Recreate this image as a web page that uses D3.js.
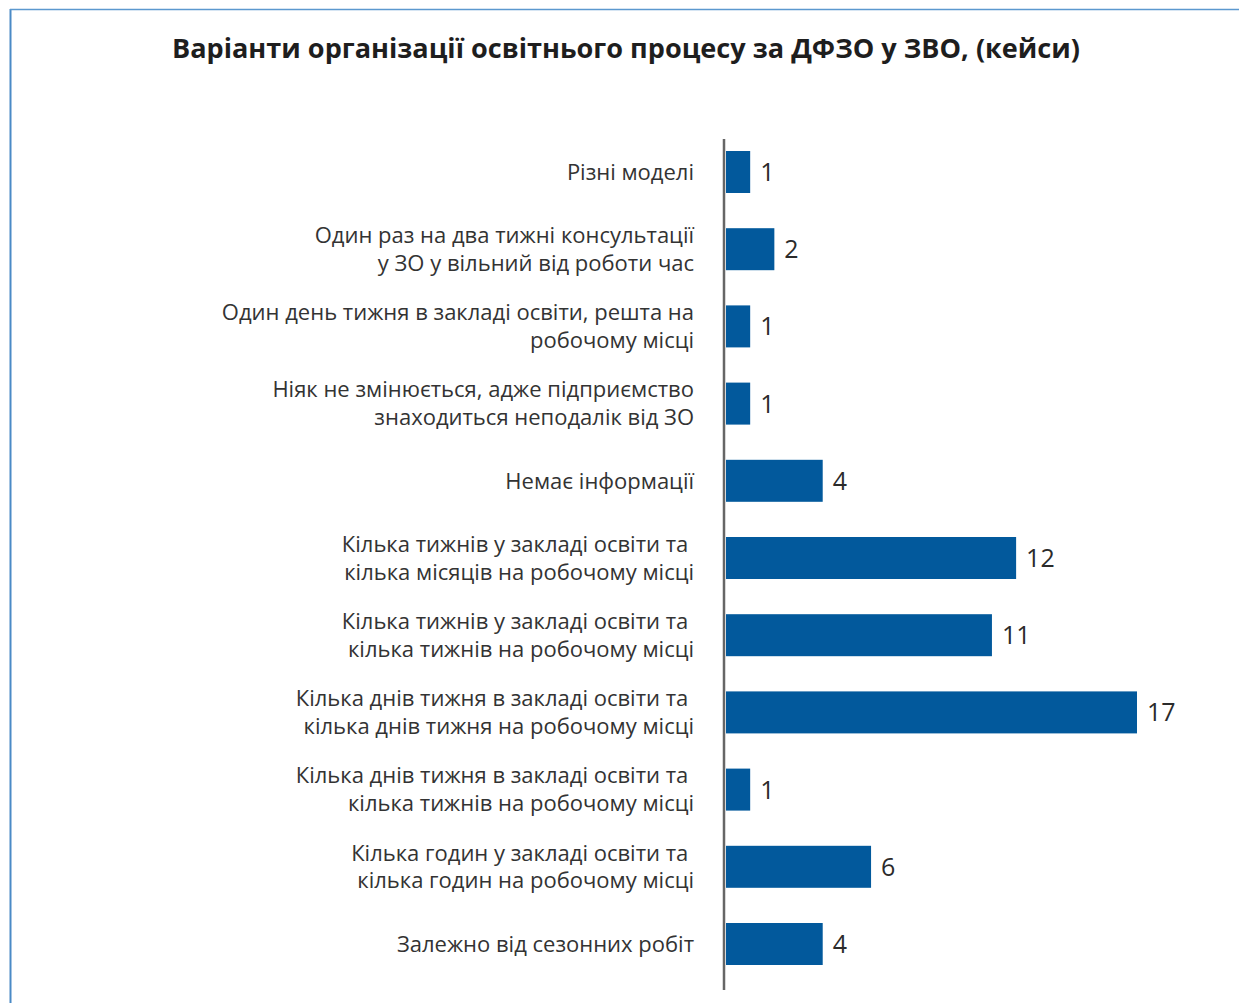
<!DOCTYPE html>
<html>
<head>
<meta charset="utf-8">
<script src="https://cdn.jsdelivr.net/npm/d3@7"></script>
<style>
  body { margin: 0; background: #fff; }
  svg { display: block; }
  text { font-family: "Open Sans", "Noto Sans", sans-serif; }
</style>
</head>
<body>
<svg id="chart"></svg>
<script>
// categories, top to bottom, split into lines as in the original
var categories = [
	["Різні моделі"],
	["Один раз на два тижні консультації", "у ЗО у вільний від роботи час"],
	["Один день тижня в закладі освіти, решта на", "робочому місці"],
	["Ніяк не змінюється, адже підприємство", "знаходиться неподалік від ЗО"],
	["Немає інформації"],
	["Кілька тижнів у закладі освіти та ", "кілька місяців на робочому місці"],
	["Кілька тижнів у закладі освіти та ", "кілька тижнів на робочому місці"],
	["Кілька днів тижня в закладі освіти та ", "кілька днів тижня на робочому місці"],
	["Кілька днів тижня в закладі освіти та ", "кілька тижнів на робочому місці"],
	["Кілька годин у закладі освіти та ", "кілька годин на робочому місці"],
	["Залежно від сезонних робіт"]
];
var values = [1, 2, 1, 1, 4, 12, 11, 17, 1, 6, 4];
var title = "Варіанти організації освітнього процесу за ДФЗО у ЗВО, (кейси)";

var width = 1239, height = 1003;
var svg = d3.select('#chart')
	.attr('width', width)
	.attr('height', height);

// frame (only left and top edges show)
svg.append('line')
	.attr('x1', 10.5).attr('y1', 9).attr('x2', 10.5).attr('y2', height)
	.style('stroke', '#4a8ac6').style('stroke-width', 2);
svg.append('line')
	.attr('x1', 10).attr('y1', 9.5).attr('x2', width).attr('y2', 9.5)
	.style('stroke', '#5b98cf').style('stroke-width', 1.5);

svg.append('text')
	.attr('x', 626)
	.attr('y', 58)
	.attr('text-anchor', 'middle')
	.attr('textLength', 908)
	.attr('lengthAdjust', 'spacingAndGlyphs')
	.style('font-weight', 'bold')
	.style('font-size', '26px')
	.style('fill', '#1e1e1e')
	.text(title);

var idx = d3.range(categories.length);

var y = d3.scaleBand()
	.domain(idx)
	.range([133.4, 982.6])
	.paddingInner(0.456)
	.paddingOuter(0.228);

var x = d3.scaleLinear()
	.domain([0, 17])
	.range([726, 1137]);

// bars
svg.selectAll('rect.bar')
	.data(values)
	.enter()
	.append('rect')
	.attr('class', 'bar')
	.attr('x', x(0))
	.attr('y', function(d, i){ return y(i); })
	.attr('width', function(d){ return x(d) - x(0); })
	.attr('height', y.bandwidth())
	.style('fill', '#02599c');

// value labels
svg.selectAll('text.val')
	.data(values)
	.enter()
	.append('text')
	.attr('class', 'val')
	.attr('x', function(d){ return x(d) + 10; })
	.attr('y', function(d, i){ return y(i) + y.bandwidth() / 2; })
	.attr('dy', '0.36em')
	.style('font-size', '25px')
	.style('fill', '#2b2b2b')
	.text(function(d){ return d; });

// axis line
svg.append('line')
	.attr('x1', 724).attr('x2', 724)
	.attr('y1', 139).attr('y2', 990)
	.style('stroke', '#666')
	.style('stroke-width', 2.5);

// category labels
var lineH = 28;
var labels = svg.selectAll('text.cat')
	.data(categories)
	.enter()
	.append('text')
	.attr('class', 'cat')
	.attr('text-anchor', 'end')
	.style('font-size', '22px')
	.style('fill', '#333')
	.style('white-space', 'pre')
	.attr('transform', function(d, i){
		var cy = y(i) + y.bandwidth() / 2;
		return 'translate(694,' + (cy - (d.length - 1) * lineH / 2) + ')';
	});

labels.selectAll('tspan')
	.data(function(d){ return d; })
	.enter()
	.append('tspan')
	.attr('x', 0)
	.attr('y', function(d, i){ return i * lineH; })
	.attr('dy', '0.35em')
	.text(function(d){ return d; });
</script>
</body>
</html>
